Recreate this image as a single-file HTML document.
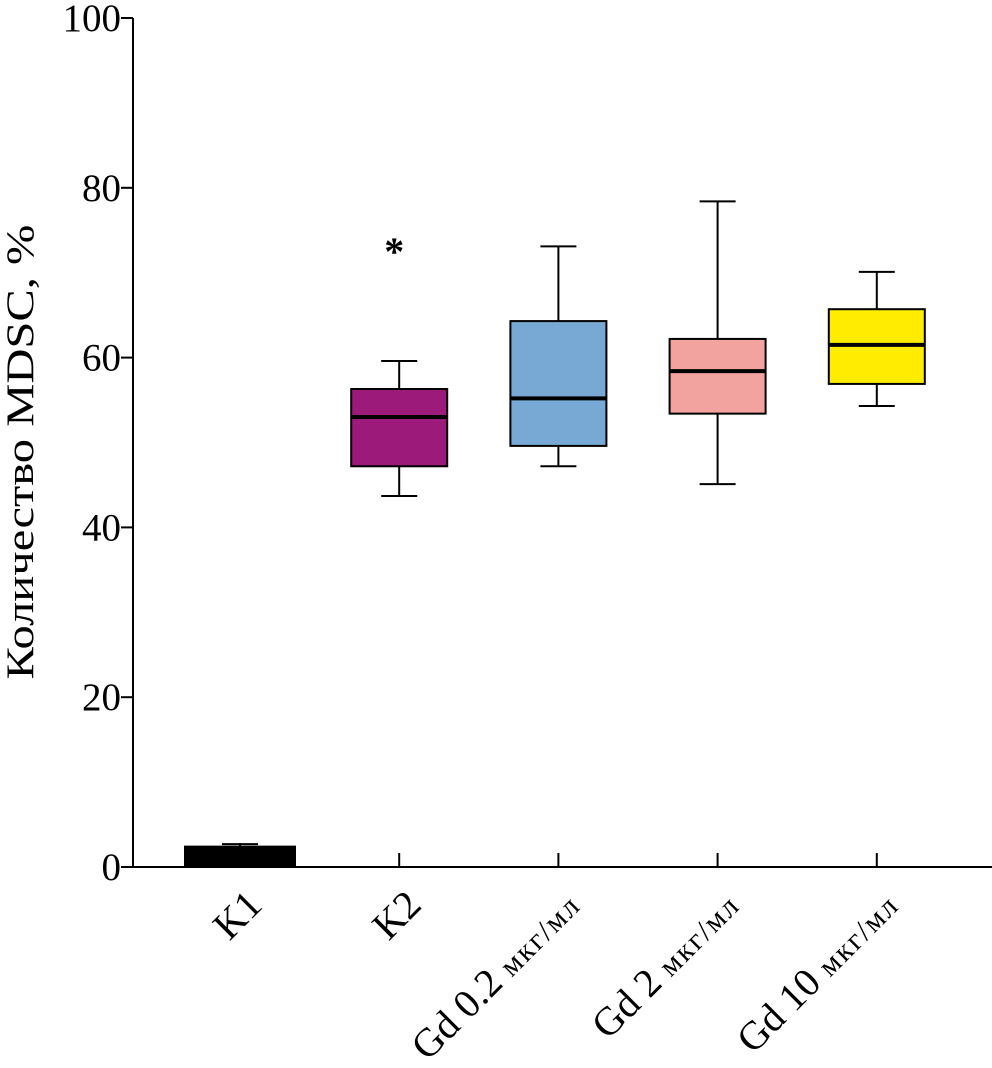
<!DOCTYPE html>
<html><head><meta charset="utf-8"><style>body{margin:0;background:#fff}</style></head>
<body>
<svg id="chart" width="992" height="1063" xmlns="http://www.w3.org/2000/svg" font-family="Liberation Serif, serif"></svg>
<script>
const categories=["K1","K2","Gd 0.2 мкг/мл","Gd 2 мкг/мл","Gd 10 мкг/мл"];
const whiskerLow=[0,43.7,47.2,45.1,54.3];
const q1=[0,47.2,49.6,53.4,56.9];
const medians=[2.0,53.0,55.2,58.4,61.5];
const q3=[2.4,56.3,64.3,62.2,65.7];
const whiskerHigh=[2.7,59.6,73.1,78.4,70.1];
const colors=["#000000","#9c1a7a","#78a9d4","#f2a3a0","#ffec00"];
const yTicks=[0,20,40,60,80,100];
const NS="http://www.w3.org/2000/svg";
const svg=document.getElementById('chart');
const y=v=>867-v*8.49;
const x=i=>240+i*159.2;
function mk(t,a,p){const e=document.createElementNS(NS,t);for(const k in a)e.setAttribute(k,a[k]);(p||svg).appendChild(e);return e;}
let e;
e=mk('line',{x1:133,y1:y(0),x2:992,y2:y(0),stroke:'#000','stroke-width':2});


e=mk('line',{x1:133,y1:y(0),x2:133,y2:y(100),stroke:'#000','stroke-width':2});


yTicks.forEach(v=>{
 e=mk('line',{x1:121,y1:y(v),x2:133,y2:y(v),stroke:'#000','stroke-width':2});
 
 
 e=mk('text',{x:121,y:y(v)+13,'text-anchor':'end','font-size':39});
 e.textContent=v;
 
 
});
e=mk('text',{x:0,y:0,'text-anchor':'middle','font-size':39,textLength:455,lengthAdjust:'spacingAndGlyphs',transform:'translate(33,452) rotate(-90)'});
e.textContent='Количество MDSC, %';


categories.forEach((c,i)=>{
 const cx=x(i);
 const w=i==0?110:96;
 e=mk('line',{x1:cx,y1:y(0),x2:cx,y2:y(0)-14,stroke:'#000','stroke-width':2});
 
 
 const g=mk('g',{});
 
 
 mk('line',{x1:cx,y1:y(whiskerHigh[i]),x2:cx,y2:y(whiskerLow[i]),stroke:'#000','stroke-width':2},g);
 mk('line',{x1:cx-18,y1:y(whiskerHigh[i]),x2:cx+18,y2:y(whiskerHigh[i]),stroke:'#000','stroke-width':2},g);
 mk('line',{x1:cx-18,y1:y(whiskerLow[i]),x2:cx+18,y2:y(whiskerLow[i]),stroke:'#000','stroke-width':2},g);
 mk('rect',{x:cx-w/2,y:y(q3[i]),width:w,height:y(q1[i])-y(q3[i]),fill:colors[i],stroke:'#000','stroke-width':2},g);
 if(i>0) mk('line',{x1:cx-w/2,y1:y(medians[i]),x2:cx+w/2,y2:y(medians[i]),stroke:'#000','stroke-width':4},g);
 e=mk('text',{x:0,y:0,'text-anchor':'end','font-size':40,transform:`translate(${cx+24},${y(0)+40}) rotate(-45)`});
 const p=c.split(' ');
 if(p.length>2){e.textContent=p[0]+' '+p[1]+' ';const ts=mk('tspan',{'font-size':30,'letter-spacing':2},e);ts.textContent=p[2];}
 else e.textContent=c;
 
 
});
e=mk('text',{x:x(1)-5,y:265,'text-anchor':'middle','font-size':40,'font-weight':'bold'});
e.textContent='*';


</script>
</body></html>
